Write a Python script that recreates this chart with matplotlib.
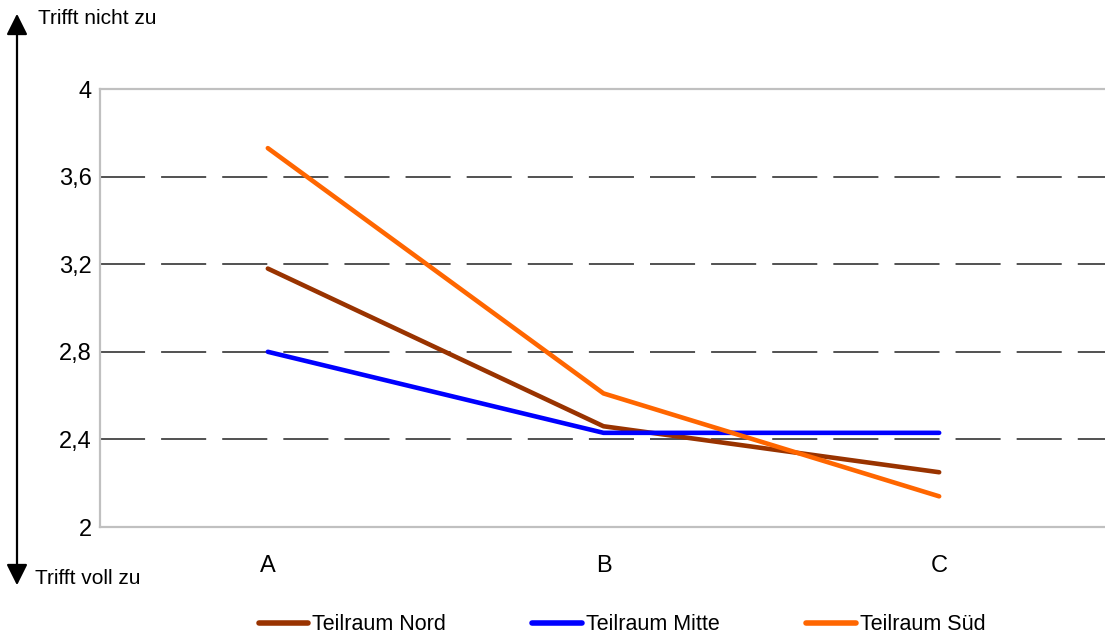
import matplotlib
matplotlib.use("Agg")
import matplotlib.pyplot as plt
from matplotlib.lines import Line2D

plt.rcParams['font.family'] = ['Liberation Sans', 'DejaVu Sans']

categories = ["A", "B", "C"]
nord = [3.18, 2.46, 2.25]
mitte = [2.80, 2.43, 2.43]
sued = [3.73, 2.61, 2.14]
series_names = ["Teilraum Nord", "Teilraum Mitte", "Teilraum Süd"]
series_colors = ["#993300", "#0000ff", "#ff6600"]
yticks = [2, 2.4, 2.8, 3.2, 3.6, 4]
ytick_labels = ["2", "2,4", "2,8", "3,2", "3,6", "4"]

W, H = 1105, 637
fig = plt.figure(figsize=(W / 100, H / 100), dpi=100)
ax_left, ax_right = 100 / W, 1107 / W
ax_bottom, ax_top = 1 - 527 / H, 1 - 89 / H
ax = fig.add_axes([ax_left, ax_bottom, ax_right - ax_left, ax_top - ax_bottom])

x = list(range(len(categories)))
for vals, name, col in zip([nord, mitte, sued], series_names, series_colors):
    ax.plot(x, vals, color=col, lw=3.3, solid_capstyle='round', label=name, zorder=3)

ax.set_xlim(-0.5, 2.5)
ax.set_ylim(2, 4)
ax.set_yticks(yticks)
ax.set_yticklabels(ytick_labels)
ax.set_xticks(x)
ax.set_xticklabels(categories)
ax.tick_params(axis='both', length=0, labelsize=17)
ax.tick_params(axis='y', pad=6)
ax.tick_params(axis='x', pad=20)

for yv in yticks[1:-1]:
    ax.axhline(yv, color='#222222', lw=1.1, dashes=(29.5, 10.5), zorder=1)

for s in ['left', 'bottom', 'top']:
    ax.spines[s].set_color('#c0c0c0')
    ax.spines[s].set_linewidth(1.6)
ax.spines['right'].set_visible(False)

# vertical arrow
fig.add_artist(matplotlib.patches.FancyArrowPatch(
    (17 / W, 1 - 588 / H), (17 / W, 1 - 11 / H), transform=fig.transFigure,
    arrowstyle='<|-|>,head_length=8,head_width=4', color='black', lw=1.6,
    mutation_scale=1.6))
fig.text(38 / W, 1 - 18 / H, "Trifft nicht zu", fontsize=15, va='center', ha='left')
fig.text(35 / W, 1 - 579 / H, "Trifft voll zu", fontsize=15, va='center', ha='left')

handles = [Line2D([0], [0], color=c, lw=4, solid_capstyle='round') for c in series_colors]
fig.legend(handles, series_names, loc='center', bbox_to_anchor=(622 / W, 1 - 625 / H),
           ncol=3, frameon=False, fontsize=15.5, handlelength=2.3, handletextpad=0.2,
           columnspacing=4.0)

fig.savefig("out.png", dpi=100)
